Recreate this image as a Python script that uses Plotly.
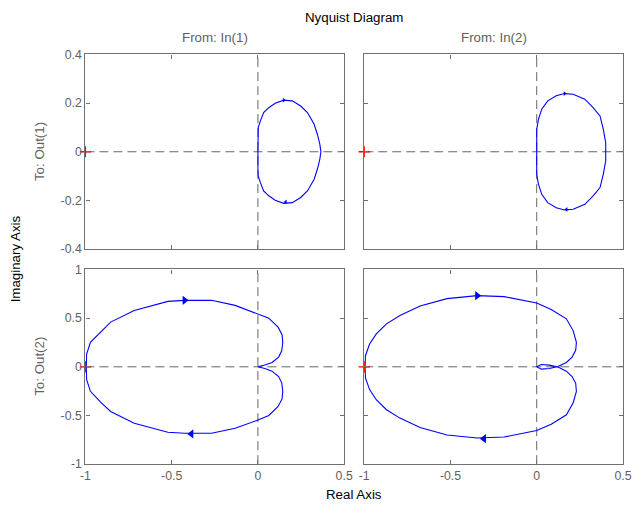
import plotly.graph_objects as go

# Frequency-response branches (one half of each Nyquist contour; the other
# half is the complex conjugate, drawn mirrored about the real axis).
re_11 = [0.0, 0.0, 0.002, 0.014, 0.033, 0.063, 0.100, 0.150, 0.199, 0.248,
         0.287, 0.326, 0.345, 0.359, 0.365]
im_11 = [0.0, 0.078, 0.100, 0.126, 0.161, 0.181, 0.199, 0.212, 0.209, 0.188,
         0.161, 0.113, 0.071, 0.030, 0.0]

re_12 = [0.0, 0.0, 0.010, 0.029, 0.064, 0.113, 0.162, 0.211, 0.279, 0.327,
         0.367, 0.386, 0.400, 0.402]
im_12 = [0.0, 0.092, 0.133, 0.175, 0.209, 0.230, 0.239, 0.236, 0.216, 0.181,
         0.147, 0.092, 0.037, 0.0]

re_21 = [-0.995, -0.993, -0.971, -0.912, -0.854, -0.717, -0.522, -0.425, -0.269,
         -0.132, 0.004, 0.063, 0.117, 0.140, 0.144, 0.138, 0.120, 0.082, 0.040, 0.0]
im_21 = [0.0, 0.131, 0.252, 0.362, 0.459, 0.579, 0.672, 0.683, 0.683,
         0.631, 0.545, 0.500, 0.407, 0.330, 0.250, 0.165, 0.100, 0.045, 0.018, 0.0]

re_22 = [-0.995, -0.993, -0.969, -0.930, -0.871, -0.793, -0.676, -0.520, -0.345,
         -0.189, 0.0, 0.084, 0.172, 0.211, 0.230, 0.226, 0.205, 0.172, 0.123,
         0.074, 0.026, 0.006, 0.0]
im_22 = [0.0, 0.114, 0.234, 0.338, 0.441, 0.527, 0.624, 0.700, 0.731,
         0.721, 0.655, 0.589, 0.493, 0.372, 0.252, 0.170, 0.100, 0.045, 0.003,
         -0.017, -0.024, -0.007, 0.0]

# Direction arrows: (re, im) on the upper branch (pointing right) and the
# lower branch (pointing left)
arrows_up = [(0.150, 0.212), (0.162, 0.239), (-0.425, 0.683), (-0.345, 0.731)]
arrows_dn = [(0.161, -0.206), (0.172, -0.237), (-0.386, -0.689), (-0.306, -0.738)]
arrow_sizes = [4, 4, 8, 8]

# Axis ticks
x_ticks = [-1, -0.5, 0, 0.5]
x_ticklabels = ["-1", "-0.5", "0", "0.5"]
y_ticks_top = [-0.4, -0.2, 0, 0.2, 0.4]
y_ticklabels_top = ["-0.4", "-0.2", "0", "0.2", "0.4"]
y_ticks_bot = [-1, -0.5, 0, 0.5, 1]
y_ticklabels_bot = ["-1", "-0.5", "0", "0.5", "1"]

inputs = ["From: In(1)", "From: In(2)"]
outputs = ["To: Out(1)", "To: Out(2)"]

# Layout is specified in 635x506 page units; the figure sits inside the
# browser's 8px body margin, so convert page units to figure paper coords.
PAGE_W, PAGE_H, BODY = 635, 506, 8
SX, SY = (PAGE_W + 2 * BODY) / PAGE_W, (PAGE_H + 2 * BODY) / PAGE_H
W, H = PAGE_W + BODY, PAGE_H + BODY


def px(x):
    return (x * SX - BODY) / W


def py(y):
    return 1 - (y * SY - BODY) / H


FS = SX  # type scale matching the page units
FONT = "Liberation Sans, Arial, sans-serif"
GREY = "#5f5f5f"
FRAME = "#707070"

branches = [(re_11, im_11), (re_12, im_12), (re_21, im_21), (re_22, im_22)]
# panel boxes in page units
col_px = [(88, 346), (366, 624)]
row_px = [(55, 249), (269.3, 463.3)]

fig = go.Figure()

for k, (re, im) in enumerate(branches):
    suffix = "" if k == 0 else str(k + 1)
    xa, ya = "x" + suffix, "y" + suffix
    lower_re = list(reversed(re))
    lower_im = [-v for v in reversed(im)]
    fig.add_trace(go.Scatter(
        x=list(re) + lower_re[1:], y=list(im) + lower_im[1:],
        mode="lines", line=dict(color="#0000ff", width=1.1),
        xaxis=xa, yaxis=ya, hoverinfo="skip", showlegend=False))
    # arrows
    fig.add_trace(go.Scatter(
        x=[arrows_up[k][0]], y=[arrows_up[k][1]], mode="markers",
        marker=dict(symbol="triangle-right", size=arrow_sizes[k], color="#0000ff"),
        xaxis=xa, yaxis=ya, hoverinfo="skip", showlegend=False))
    fig.add_trace(go.Scatter(
        x=[arrows_dn[k][0]], y=[arrows_dn[k][1]], mode="markers",
        marker=dict(symbol="triangle-left", size=arrow_sizes[k], color="#0000ff"),
        xaxis=xa, yaxis=ya, hoverinfo="skip", showlegend=False))
    # critical point -1
    fig.add_trace(go.Scatter(
        x=[-1], y=[0], mode="markers", cliponaxis=False,
        marker=dict(symbol="cross-thin", size=8,
                    line=dict(color="#ff0000", width=1.3)),
        xaxis=xa, yaxis=ya, hoverinfo="skip", showlegend=False))
    # dashed reference axes
    fig.add_shape(type="line", xref=xa, yref=ya + " domain", x0=0, x1=0, y0=0, y1=1,
                  line=dict(color="#666666", width=1, dash="9px,5px"), layer="below")
    fig.add_shape(type="line", xref=xa + " domain", yref=ya, x0=0, x1=1, y0=0, y1=0,
                  line=dict(color="#666666", width=1, dash="9px,5px"), layer="below")

    r, c = divmod(k, 2)
    xd = [px(col_px[c][0]), px(col_px[c][1])]
    yd = [py(row_px[r][1]), py(row_px[r][0])]
    common = dict(showline=True, mirror="ticks", linecolor=FRAME, linewidth=1.3,
                  ticks="inside", ticklen=4, tickcolor=FRAME, tickwidth=1,
                  showgrid=False, zeroline=False,
                  tickfont=dict(family=FONT, size=12 * FS, color=GREY))
    fig.update_layout(**{
        ("xaxis" + suffix): dict(
            domain=xd, anchor=ya, range=[-1, 0.5], tickvals=x_ticks,
            ticktext=x_ticklabels, showticklabels=(r == 1), **common),
        ("yaxis" + suffix): dict(
            domain=yd, anchor=xa,
            range=[-0.4, 0.4] if r == 0 else [-1, 1],
            tickvals=y_ticks_top if r == 0 else y_ticks_bot,
            ticktext=y_ticklabels_top if r == 0 else y_ticklabels_bot,
            showticklabels=(c == 0), **common),
    })

annotations = [
    dict(text="Nyquist Diagram", x=px(356), y=py(18),
         font=dict(family=FONT, size=13 * FS, color="#000000")),
    dict(text=inputs[0], x=px(217), y=py(38),
         font=dict(family=FONT, size=13 * FS, color=GREY)),
    dict(text=inputs[1], x=px(495), y=py(38),
         font=dict(family=FONT, size=13 * FS, color=GREY)),
    dict(text=outputs[0], x=px(42), y=py(152), textangle=-90,
         font=dict(family=FONT, size=13 * FS, color=GREY)),
    dict(text=outputs[1], x=px(42), y=py(366), textangle=-90,
         font=dict(family=FONT, size=13 * FS, color=GREY)),
    dict(text="Imaginary Axis", x=px(18), y=py(259), textangle=-90,
         font=dict(family=FONT, size=13 * FS, color="#000000")),
    dict(text="Real Axis", x=px(356), y=py(494),
         font=dict(family=FONT, size=13 * FS, color="#000000")),
]
for a in annotations:
    a.update(xref="paper", yref="paper", showarrow=False,
             xanchor="center", yanchor="middle")

fig.update_layout(
    width=W, height=H, margin=dict(l=0, r=0, t=0, b=0),
    paper_bgcolor="white", plot_bgcolor="white",
    annotations=annotations, showlegend=False,
)

fig.write_html("out.html")
